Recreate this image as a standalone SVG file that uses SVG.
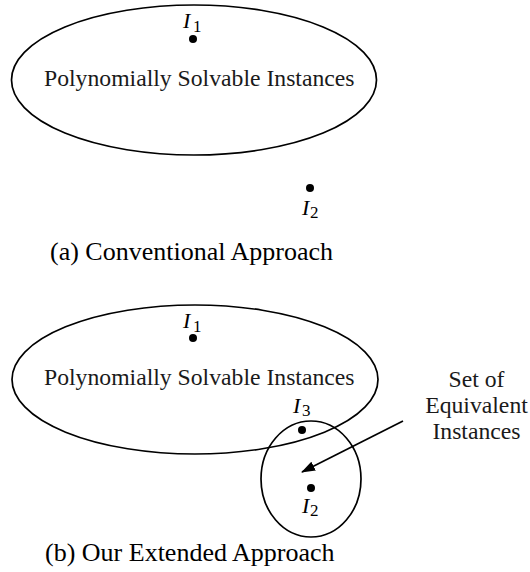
<svg xmlns="http://www.w3.org/2000/svg" width="530" height="572" viewBox="0 0 530 572">
<style>
.sh{fill:none;stroke:#000;stroke-width:1.7}
.dot{fill:#000}
text{font-family:'Liberation Serif','DejaVu Serif',serif}
.t{fill:#1a1a1a}
.lbl{font-size:23.7px}
.cap{font-size:26px;fill:#000}
.iv{font-style:italic;font-size:22px;fill:#000}
.sub{font-size:17px;fill:#000}
</style>
<defs>
<marker id="ah" viewBox="0 0 14 10" refX="13" refY="5" markerWidth="14" markerHeight="10" markerUnits="userSpaceOnUse" orient="auto">
<path d="M0,0 L14,5 L0,10 z" fill="#000"/>
</marker>
</defs>
<rect width="530" height="572" fill="#fff"/>
<g id="panel-a">
<g id="poly-a">
<ellipse class="sh" cx="194" cy="80" rx="182.5" ry="75"/>
<text class="t lbl" font-family="Liberation Serif" x="44" y="86">Polynomially Solvable Instances</text>
</g>
<g id="i1-a">
<circle class="dot" cx="193" cy="39" r="4"/>
<text class="iv" font-family="Liberation Serif" x="183" y="28">I</text><text class="sub" font-family="Liberation Serif" x="193" y="32">1</text>
</g>
<g id="i2-a">
<circle class="dot" cx="310" cy="188" r="4"/>
<text class="iv" font-family="Liberation Serif" x="302" y="215">I</text><text class="sub" font-family="Liberation Serif" x="310" y="218">2</text>
</g>
<text class="t cap" font-family="Liberation Serif" x="50" y="260">(a) Conventional Approach</text>
</g>
<g id="panel-b">
<g id="poly-b">
<ellipse class="sh" cx="195" cy="379.5" rx="183" ry="74.5"/>
<text class="t lbl" font-family="Liberation Serif" x="44" y="385">Polynomially Solvable Instances</text>
</g>
<g id="equiv-set">
<ellipse class="sh" cx="311" cy="479" rx="50" ry="58"/>
</g>
<g id="i1-b">
<circle class="dot" cx="193" cy="338" r="4"/>
<text class="iv" font-family="Liberation Serif" x="183" y="328">I</text><text class="sub" font-family="Liberation Serif" x="193" y="332">1</text>
</g>
<g id="i3-b">
<circle class="dot" cx="302" cy="430" r="4"/>
<text class="iv" font-family="Liberation Serif" x="293" y="413">I</text><text class="sub" font-family="Liberation Serif" x="302" y="416">3</text>
</g>
<g id="i2-b">
<circle class="dot" cx="311" cy="488" r="4"/>
<text class="iv" font-family="Liberation Serif" x="302" y="513">I</text><text class="sub" font-family="Liberation Serif" x="310" y="516">2</text>
</g>
<g id="equiv-label">
<text class="t lbl" font-family="Liberation Serif" x="476.5" y="387" text-anchor="middle">Set of</text>
<text class="t lbl" font-family="Liberation Serif" x="476.5" y="413" text-anchor="middle">Equivalent</text>
<text class="t lbl" font-family="Liberation Serif" x="476.5" y="439" text-anchor="middle">Instances</text>
</g>
<g id="connectors">
<line class="sh" x1="403" y1="421" x2="302" y2="472" marker-end="url(#ah)"/>
</g>
<text class="t cap" font-family="Liberation Serif" x="45" y="561">(b) Our Extended Approach</text>
</g>
</svg>
